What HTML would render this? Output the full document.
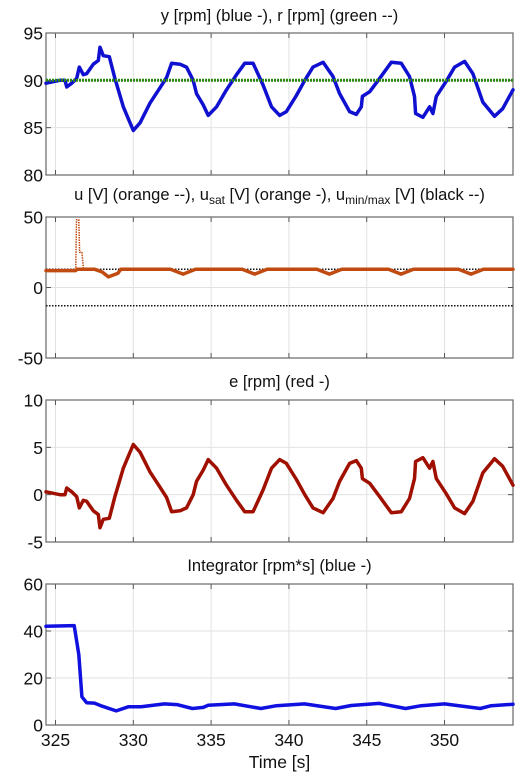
<!DOCTYPE html>
<html><head><meta charset="utf-8"><style>
html,body{margin:0;padding:0;background:#fff;}
svg{display:block;font-family:"Liberation Sans",Arial,sans-serif;}
</style></head><body>
<svg id="chart" width="530" height="778" viewBox="0 0 530 778" xmlns="http://www.w3.org/2000/svg"></svg>
<script>
// ---- data ----
const xTicks = [325, 330, 335, 340, 345, 350];
const yT = [324.39,325.29,325.61,325.72,326.04,326.36,326.53,326.79,327.0,327.43,327.75,327.86,328.07,328.46,328.82,329.36,330.0,330.43,331.07,331.71,332.14,332.46,333.0,333.42,333.85,334.06,334.49,334.81,335.35,335.99,336.63,337.16,337.7,338.34,338.88,339.41,339.84,340.48,341.02,341.55,342.2,342.83,343.26,343.9,344.33,344.65,344.72,345.19,345.83,346.58,347.22,347.75,348.07,348.14,348.61,349.04,349.25,349.47,350.11,350.65,351.29,351.82,352.46,353.21,353.74,354.4];
const yVals = [89.7,90.0,90.0,89.3,89.7,90.2,91.4,90.6,90.7,91.7,92.1,93.5,92.6,92.5,90.2,87.2,84.7,85.5,87.6,89.2,90.3,91.8,91.7,91.4,90.0,88.6,87.4,86.3,87.2,89.0,90.6,91.8,91.8,89.5,87.2,86.3,86.7,88.4,90.0,91.4,91.9,90.4,88.6,86.7,86.4,87.2,88.3,88.8,90.2,91.9,91.8,90.4,88.3,86.5,86.1,87.2,86.5,88.3,89.9,91.4,92.0,90.7,87.7,86.2,87.0,89.0];
const rVals = [90, 90];
const rT = [324.39, 354.4];
const eVals = [0.3,0.0,0.0,0.7,0.3,-0.2,-1.4,-0.6,-0.7,-1.7,-2.1,-3.5,-2.6,-2.5,-0.2,2.8,5.3,4.5,2.4,0.8,-0.3,-1.8,-1.7,-1.4,0.0,1.4,2.6,3.7,2.8,1.0,-0.6,-1.8,-1.8,0.5,2.8,3.7,3.3,1.6,0.0,-1.4,-1.9,-0.4,1.4,3.3,3.6,2.8,1.7,1.2,-0.2,-1.9,-1.8,-0.4,1.7,3.5,3.9,2.8,3.5,1.7,0.1,-1.4,-2.0,-0.7,2.3,3.8,3.0,1.0];
const uT = [324.39,326.3,326.35,326.5,326.55,326.7,326.8,327.5,328.0,328.4,329.0,329.2,332.4,333.2,334.0,337.0,337.8,338.6,341.8,342.6,343.4,346.4,347.2,348.0,350.9,351.7,352.5,354.4];
const uVals = [12,12,48,48,25,25,13,13,11,7.5,10,13,13,9.5,13,13,9.5,13,13,9.5,13,13,9.5,13,13,9.5,13,13];
const sT = [324.39,326.3,326.4,327.5,328.0,328.4,329.0,329.2,332.4,333.2,334.0,337.0,337.8,338.6,341.8,342.6,343.4,346.4,347.2,348.0,350.9,351.7,352.5,354.4];
const sVals = [12,12,13,13,11,7.5,10,13,13,9.5,13,13,9.5,13,13,9.5,13,13,9.5,13,13,9.5,13,13];
const limVals = [13, -13];
const iT = [324.39,326.2,326.5,326.7,327.0,327.5,328.0,328.9,329.7,330.5,332.0,332.8,333.8,334.5,334.8,336.5,338.2,339.2,341.0,343.0,344.0,345.8,347.5,348.5,350.0,352.3,353.0,354.4];
const iVals = [42,42.3,30,12,9.5,9.3,8,6,7.8,7.8,9,8.7,7,7.5,8.4,9,7,8.2,9,7,8.3,9.2,7,8.2,9,7,8.2,8.8];

// ---- layout ----
const NS = "http://www.w3.org/2000/svg";
const svg = document.getElementById('chart');
const X0 = 46, X1 = 513, T0 = 324.39, T1 = 354.4;
const sx = t => X0 + (t - T0) / (T1 - T0) * (X1 - X0);
function el(tag, attrs, parent) {
  const e = document.createElementNS(NS, tag);
  for (const k in attrs) e.setAttribute(k, attrs[k]);
  (parent || svg).appendChild(e);
  return e;
}
const panels = [
  {top:33, bot:175, min:80, max:95, ticks:[80,85,90,95], name:'speed-panel'},
  {top:217, bot:358, min:-50, max:50, ticks:[-50,0,50], name:'control-panel'},
  {top:400, bot:542, min:-5, max:10, ticks:[-5,0,5,10], name:'error-panel'},
  {top:584, bot:725, min:0, max:60, ticks:[0,20,40,60], name:'integrator-panel'}
];
function makeSy(p){ return v => p.bot - (v - p.min) / (p.max - p.min) * (p.bot - p.top); }
function drawPanel(p, last) {
  const g = el('g', {});
  
  
  const sy = makeSy(p);
  xTicks.forEach(t => el('line', {x1:sx(t), x2:sx(t), y1:p.top, y2:p.bot, stroke:'#e2e2e2', 'stroke-width':1}, g));
  p.ticks.forEach(v => {
    el('line', {x1:X0, x2:X1, y1:sy(v), y2:sy(v), stroke:'#e2e2e2', 'stroke-width':1}, g);
    el('line', {x1:X0, x2:X0+5, y1:sy(v), y2:sy(v), stroke:'#555'}, g);
    el('line', {x1:X1-5, x2:X1, y1:sy(v), y2:sy(v), stroke:'#555'}, g);
    const tx = el('text', {x:X0-3, y:sy(v)+6.5, 'text-anchor':'end', 'font-size':17.5, fill:'#111'}, g);
    tx.textContent = v;
  });
  xTicks.forEach(t => {
    el('line', {x1:sx(t), x2:sx(t), y1:p.bot, y2:p.bot-5, stroke:'#555'}, g);
    el('line', {x1:sx(t), x2:sx(t), y1:p.top, y2:p.top+5, stroke:'#555'}, g);
    if (last) { const tx = el('text', {x:sx(t), y:p.bot+21, 'text-anchor':'middle', 'font-size':17.5, fill:'#111'}, g); tx.textContent = t; }
  });
  el('rect', {x:X0, y:p.top, width:X1-X0, height:p.bot-p.top, fill:'none', stroke:'#666', 'stroke-width':1.2}, g);
  return {g, sy};
}
function line(g, ts, vs, sy, color, w, dash, name) {
  const d = ts.map((t,i)=> (i?'L':'M') + sx(t).toFixed(1) + ',' + sy(vs[i]).toFixed(1)).join(' ');
  const p = el('path', {d, fill:'none', stroke:color, 'stroke-width':w, 'stroke-linejoin':'round', 'stroke-linecap': dash ? 'butt' : 'round'}, g);
  if (dash) p.setAttribute('stroke-dasharray', dash);
  
  
  return p;
}
function title(txt, y, name) {
  const t = el('text', {x:(X0+X1)/2, y, 'text-anchor':'middle', 'font-size':16.5, fill:'#111'});
  
  
  t.innerHTML = txt;
}
title('y [rpm] (blue -), r [rpm] (green --)', 21, 'speed-title');
title('u [V] (orange --), u<tspan font-size="12" dy="4">sat</tspan><tspan dy="-4"> [V] (orange -), u</tspan><tspan font-size="12" dy="4">min/max</tspan><tspan dy="-4"> [V] (black --)</tspan>', 200, 'control-title');
title('e [rpm] (red -)', 387, 'error-title');
title('Integrator [rpm*s] (blue -)', 571, 'integrator-title');

let P = drawPanel(panels[0]);
line(P.g, yT, yVals, P.sy, '#1010d0', 3.5, null, 'y-series');
line(P.g, rT, rVals, P.sy, '#2a8a10', 3, '2,1', 'r-series');

P = drawPanel(panels[1]);
line(P.g, rT, [limVals[0],limVals[0]], P.sy, '#111', 1.5, '1.5,1.5', 'umax-line');
line(P.g, rT, [limVals[1],limVals[1]], P.sy, '#111', 1.5, '1.5,1.5', 'umin-line');
line(P.g, sT, sVals, P.sy, '#c04a10', 3.5, null, 'usat-series');
line(P.g, uT, uVals, P.sy, '#c04a10', 1.5, '1.5,1', 'u-series');

P = drawPanel(panels[2]);
line(P.g, yT, eVals, P.sy, '#a01000', 3.5, null, 'e-series');

P = drawPanel(panels[3], true);
line(P.g, iT, iVals, P.sy, '#1010e0', 3.5, null, 'integrator-series');

const xl = el('text', {x:(X0+X1)/2, y:768, 'text-anchor':'middle', 'font-size':17.5, fill:'#111'});


xl.textContent = 'Time [s]';
</script>
</body></html>
